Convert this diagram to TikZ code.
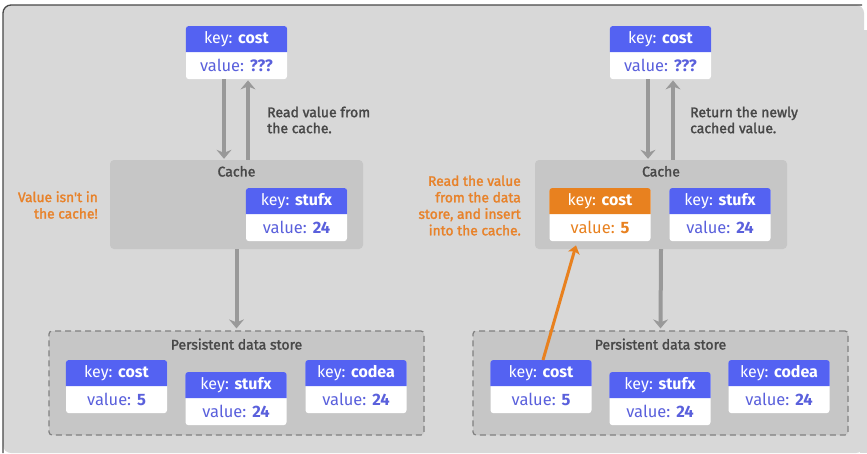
\documentclass[tikz,border=0pt]{standalone}
\usepackage{fontspec}
\setmainfont{Fira Sans}
\newfontfamily\notefont[FakeBold=1.8]{Fira Sans}
\usepackage{tikz}
\usetikzlibrary{arrows.meta,positioning,calc}

\definecolor{keyblue}{HTML}{5462F2}
\definecolor{valblue}{HTML}{5A60DC}
\definecolor{keyorange}{HTML}{E8811F}
\definecolor{noteorange}{HTML}{E8822A}
\definecolor{arrowgray}{HTML}{999999}
\definecolor{txtgray}{HTML}{484848}
\definecolor{panelgray}{HTML}{D8D8D8}
\definecolor{boxgray}{HTML}{C6C6C6}

\tikzset{
  cardbody/.style={fill=white, rounded corners=3pt, minimum width=101pt, minimum height=53pt, inner sep=0pt},
  keytext/.style={text=white, font=\fontsize{16}{18}\selectfont, inner sep=0pt},
  valtext/.style={font=\fontsize{16.5}{18}\selectfont, inner sep=0pt},
  cachebox/.style={fill=boxgray, rounded corners=4pt, inner sep=0pt},
  storebox/.style={fill=boxgray, draw=gray, dashed, line width=1.2pt, dash pattern=on 6pt off 4pt, rounded corners=3pt, inner sep=0pt},
  boxlabel/.style={text=txtgray, font=\notefont\fontsize{14}{16}\selectfont, inner sep=0pt},
  note/.style={text=txtgray, font=\notefont\fontsize{14}{16}\selectfont, align=left, inner sep=0pt},
  warn/.style={text=noteorange, font=\notefont\fontsize{13.8}{16.5}\selectfont, align=right, inner sep=0pt},
  flow/.style={draw=arrowgray, line width=4pt, -{Stealth[length=9pt,width=15pt,inset=3pt]}},
  fetch/.style={draw=keyorange, line width=3pt, -{Stealth[length=8pt,width=12pt,inset=2pt]}},
}

% key/value card: name, centre x, top y, key, value, head colour, value colour
\newcommand{\kvcard}[7]{%
  \node[cardbody, anchor=north] (#1) at (#2,#3) {};
  \fill[#6] ($(#1.north west)+(0,26)$) [rounded corners=3pt] -- (#1.north west) -- (#1.north east) [sharp corners] -- ($(#1.north east)+(0,26)$) -- cycle;
  \node[keytext] (#1k) at ($(#1.north)+(0,13)$) {key: \textbf{#4}};
  \node[valtext, text=#7] (#1v) at ($(#1.south)+(0,-13.5)$) {value: \textbf{#5}};
}

\begin{document}
\begin{tikzpicture}[x=1pt, y=-1pt]
  \useasboundingbox (0,0) rectangle (867,453);

  % panel
  \fill[white] (0,0) rectangle (867,453);
  \fill[panelgray, rounded corners=8pt] (3,453) -- (3,5) -- (864,5) -- (864,453) -- cycle;
  \fill[panelgray] (860,30) rectangle (867,453);
  \draw[txtgray, line width=1.3pt, rounded corners=8pt] (3,453) -- (3,5) -- (862,5);

  % caches and data stores
  \node[cachebox, minimum width=253pt, minimum height=89pt] (cl) at (236.5,204.5) {};
  \node[cachebox, minimum width=252pt, minimum height=89pt] (cr) at (661,204.5) {};
  \node[storebox, minimum width=375pt, minimum height=104pt] (sl) at (236.5,383) {};
  \node[storebox, minimum width=375pt, minimum height=104pt] (sr) at (660.5,383) {};
  \node[boxlabel, below=6pt of cl.north] (cll) {Cache};
  \node[boxlabel, below=6pt of cr.north] (crl) {Cache};
  \node[boxlabel, below=8pt of sl.north] (sll) {Persistent data store};
  \node[boxlabel, below=8pt of sr.north] (srl) {Persistent data store};

  % left: cache miss
  \kvcard{tl}{236.5}{26}{cost}{???}{keyblue}{valblue}
  \kvcard{lcs}{296.5}{188}{stufx}{24}{keyblue}{valblue}
  \kvcard{lds1}{116.5}{360}{cost}{5}{keyblue}{valblue}
  \kvcard{lds2}{236}{372}{stufx}{24}{keyblue}{valblue}
  \kvcard{lds3}{356}{360}{codea}{24}{keyblue}{valblue}

  % right: value fetched and cached
  \kvcard{tr}{660.5}{26}{cost}{???}{keyblue}{valblue}
  \kvcard{rcc}{600}{188}{cost}{5}{keyorange}{keyorange}
  \kvcard{rcs}{720}{188}{stufx}{24}{keyblue}{valblue}
  \kvcard{rds1}{541}{360}{cost}{5}{keyblue}{valblue}
  \kvcard{rds2}{660}{372}{stufx}{24}{keyblue}{valblue}
  \kvcard{rds3}{779}{360}{codea}{24}{keyblue}{valblue}

  % arrows
  \draw[flow] ($(tl.south)+(-12.5,0)$) -- ($(tl.south |- cl.north)+(-12.5,-1)$);
  \draw[flow] ($(tl.south |- cl.north)+(11.5,0)$) -- ($(tl.south)+(11.5,1)$);
  \draw[flow] (cl.south) -- ($(sl.north)+(0,-2)$);
  \draw[flow] ($(tr.south)+(-12.5,0)$) -- ($(tr.south |- cr.north)+(-12.5,-1)$);
  \draw[flow] ($(tr.south |- cr.north)+(12.5,0)$) -- ($(tr.south)+(12.5,1)$);
  \draw[flow] (cr.south) -- ($(sr.north)+(0,-2)$);
  \draw[fetch] ($(rds1.north)+(2,0)$) -- ($(rcc.south)+(-24,4)$);

  % notes
  \node[note, anchor=west] (readl) at (267,120) {Read value from\\the cache.};
  \node[note, anchor=west] (retr) at (690,120) {Return the newly\\cached value.};
  \node[warn, anchor=east] (missl) at (98,205) {Value isn't in\\the cache!};
  \node[warn, anchor=east] (readr) at (521,205.5) {Read the value\\from the data\\store, and insert\\into the cache.};
\end{tikzpicture}
\end{document}
